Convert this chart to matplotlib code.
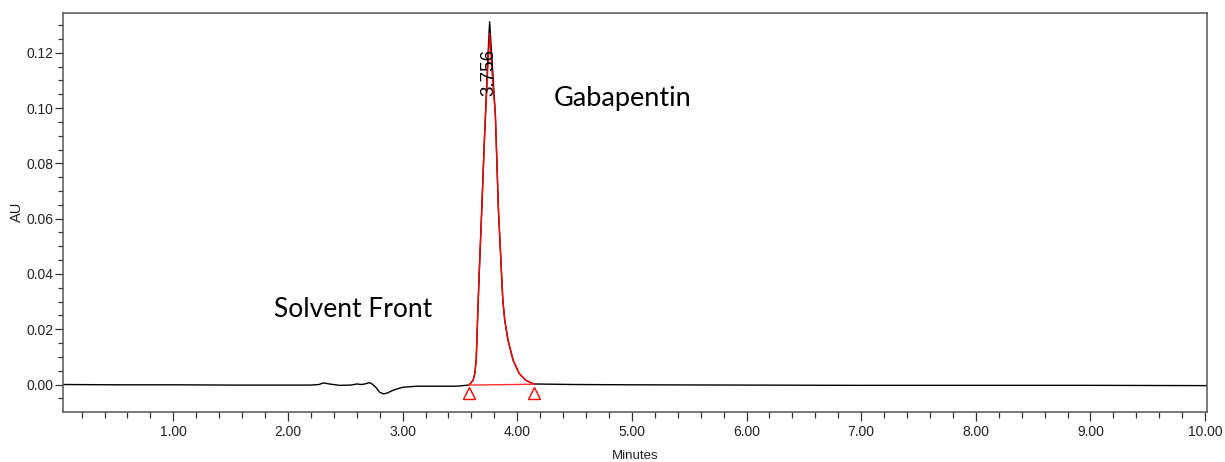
import matplotlib
matplotlib.use("Agg")
import matplotlib.pyplot as plt
from matplotlib.ticker import MultipleLocator, FormatStrFormatter

# chromatogram trace (minutes, AU)
time_min = [0.035, 0.5, 1.0, 1.5, 2.0, 2.2, 2.27, 2.31, 2.36, 2.45, 2.55, 2.60,
            2.645, 2.68, 2.71, 2.74, 2.77, 2.80, 2.835, 2.87, 2.92, 3.0, 3.125,
            3.3, 3.473, 3.578, 3.592, 3.615, 3.630, 3.642, 3.648, 3.655, 3.668,
            3.690, 3.715, 3.740, 3.759, 3.782, 3.809, 3.836, 3.874, 3.891, 3.919,
            3.963, 4.015, 4.073, 4.131, 4.146, 4.5, 5.0, 6.0, 7.0, 8.0, 9.0, 10.02]
absorb_au = [0.0, -0.0001, -0.0001, -0.0002, -0.0002, -0.0002, 0.0, 0.0006, 0.0002,
             -0.0003, -0.0002, 0.0002, 0.0, 0.0003, 0.0007, 0.0, -0.0012, -0.0028,
             -0.0034, -0.0030, -0.0020, -0.0010, -0.0006, -0.0006, -0.0006, -0.0002,
             0.0004, 0.0016, 0.0041, 0.0089, 0.0161, 0.0250, 0.0400, 0.0630, 0.0900,
             0.1150, 0.1312, 0.1160, 0.0975, 0.0630, 0.0306, 0.0233, 0.0161, 0.0089,
             0.0041, 0.0016, 0.0004, 0.0002, 0.0, -0.0001, -0.0002, -0.0003, -0.0003,
             -0.0003, -0.0004]

# integrated peak (red overlay)
peak_time = [3.578, 3.592, 3.615, 3.630, 3.642, 3.648, 3.655, 3.668, 3.690, 3.715,
             3.740, 3.759, 3.782, 3.809, 3.836, 3.874, 3.891, 3.919, 3.963, 4.015,
             4.073, 4.131, 4.146]
peak_au = [-0.0002, 0.0004, 0.0016, 0.0041, 0.0089, 0.0161, 0.0250, 0.0400, 0.0630,
           0.0900, 0.1120, 0.1270, 0.1120, 0.0975, 0.0630, 0.0306, 0.0233, 0.0161,
           0.0089, 0.0041, 0.0016, 0.0004, 0.0002]
peak_start = (3.578, -0.0002)
peak_end = (4.146, 0.0001)
marker_y = -0.0031
retention_time = 3.756

tick_font = "Liberation Sans"
tick_size = 10

fig = plt.figure(figsize=(12.25, 4.62), dpi=100)
ax = fig.add_axes([0.0512, 0.1093, 0.9344, 0.8626])

ax.plot(time_min, absorb_au, color="black", linewidth=1.0, zorder=2)
ax.plot(peak_time, peak_au, color="#ff0000", linewidth=1.0, zorder=3)
ax.plot([peak_start[0], peak_end[0]], [peak_start[1], peak_end[1]],
        color="#ff3030", linewidth=1.0, zorder=3)
ax.plot([peak_start[0], peak_end[0]], [marker_y, marker_y], linestyle="none",
        marker="^", markersize=9, markerfacecolor="none", markeredgecolor="#ff0000",
        markeredgewidth=1.0, zorder=4)

ax.set_xlim(0.035, 10.02)
ax.set_ylim(-0.00976, 0.1344)

ax.xaxis.set_major_locator(MultipleLocator(1.0))
ax.xaxis.set_minor_locator(MultipleLocator(0.2))
ax.yaxis.set_major_locator(MultipleLocator(0.02))
ax.yaxis.set_minor_locator(MultipleLocator(0.005))
ax.xaxis.set_major_formatter(FormatStrFormatter("%.2f"))
ax.yaxis.set_major_formatter(FormatStrFormatter("%.2f"))

for s in ax.spines.values():
    s.set_color("#555555")
    s.set_linewidth(1.1)

ax.tick_params(axis="both", which="both", direction="out", colors="#333333",
               width=0.9, labelcolor="#222222")
ax.tick_params(axis="x", which="major", length=6.5, pad=3)
ax.tick_params(axis="x", which="minor", length=4.3)
ax.tick_params(axis="y", which="major", length=5.5, pad=1)
ax.tick_params(axis="y", which="minor", length=3.8)
for lbl in ax.get_xticklabels() + ax.get_yticklabels():
    lbl.set_fontfamily(tick_font)
    lbl.set_fontsize(tick_size)

ax.set_xlabel("Minutes", fontfamily=tick_font, fontsize=tick_size - 0.5,
              color="#222222", labelpad=8)
ax.set_ylabel("AU", fontfamily=tick_font, fontsize=tick_size + 0.5, color="#222222",
              labelpad=2)

ax.text(retention_time, 0.1043, "3.756", rotation=90, ha="center", va="bottom",
        fontfamily="Liberation Sans", fontsize=13.5, color="black", zorder=5)
ax.text(2.572, 0.0245, "Solvent Front", fontfamily="Lato", fontsize=19,
        color="black", ha="center", va="baseline")
ax.text(4.923, 0.1007, "Gabapentin", fontfamily="Lato", fontsize=19.5,
        color="black", ha="center", va="baseline")

fig.savefig("out.png", dpi=100, facecolor="white")
